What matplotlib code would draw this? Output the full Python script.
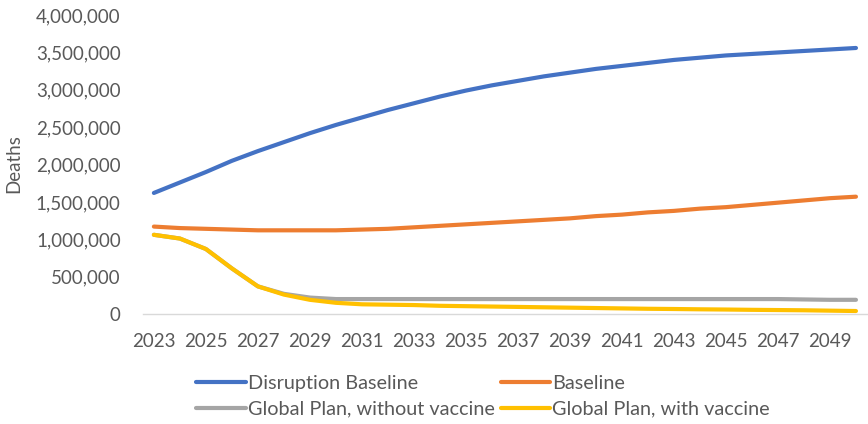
import matplotlib
matplotlib.use('Agg')
import matplotlib.pyplot as plt
from matplotlib.ticker import FuncFormatter

years = list(range(2023, 2051))

disruption = [1.62, 1.76, 1.90, 2.05, 2.18, 2.30, 2.42, 2.53, 2.63, 2.73,
              2.82, 2.91, 2.99, 3.06, 3.12, 3.18, 3.23, 3.28, 3.32, 3.36,
              3.40, 3.43, 3.46, 3.48, 3.50, 3.52, 3.54, 3.56]
baseline = [1.17, 1.15, 1.14, 1.13, 1.12, 1.12, 1.12, 1.12, 1.13, 1.14,
            1.16, 1.18, 1.20, 1.22, 1.24, 1.26, 1.28, 1.31, 1.33, 1.36,
            1.38, 1.41, 1.43, 1.46, 1.49, 1.52, 1.55, 1.57]
gp_no_vax = [1.06, 1.01, 0.87, 0.61, 0.37, 0.27, 0.22, 0.20, 0.20, 0.20,
             0.20, 0.20, 0.20, 0.20, 0.20, 0.20, 0.20, 0.20, 0.20, 0.20,
             0.20, 0.20, 0.20, 0.20, 0.20, 0.195, 0.19, 0.19]
gp_vax = [1.06, 1.01, 0.87, 0.61, 0.37, 0.26, 0.19, 0.15, 0.13, 0.125,
          0.12, 0.11, 0.105, 0.10, 0.095, 0.09, 0.085, 0.08, 0.075, 0.07,
          0.067, 0.063, 0.06, 0.056, 0.053, 0.05, 0.045, 0.04]

# values above are in millions
to_abs = lambda v: [x * 1e6 for x in v]

plt.rcParams['font.family'] = ['Lato', 'DejaVu Sans']
txt = '#595959'

fig = plt.figure(figsize=(8.68, 4.24), dpi=100)
ax = fig.add_axes([0.1647, 0.2594, 0.834, 0.705])

l1, = ax.plot(years, to_abs(disruption), color='#4472C4', lw=3, solid_capstyle='round')
l2, = ax.plot(years, to_abs(baseline), color='#ED7D31', lw=3, solid_capstyle='round')
l3, = ax.plot(years, to_abs(gp_no_vax), color='#A5A5A5', lw=3, solid_capstyle='round')
l4, = ax.plot(years, to_abs(gp_vax), color='#FFC000', lw=3, solid_capstyle='round')

ax.set_xlim(2022.58, 2050.42)
ax.set_ylim(0, 4e6)
ax.set_xticks(years[::2])
ax.set_yticks([i * 5e5 for i in range(9)])
ax.yaxis.set_major_formatter(FuncFormatter(lambda v, p: f'{int(v):,}'))

for s in ['top', 'right', 'left']:
    ax.spines[s].set_visible(False)
ax.spines['bottom'].set_color('#D9D9D9')
ax.spines['bottom'].set_linewidth(1)
ax.tick_params(length=0, labelsize=13.5, colors=txt)
ax.tick_params(axis='y', pad=16)
ax.tick_params(axis='x', pad=14)

fig.text(0.016, 0.615, 'Deaths', rotation=90, va='center', ha='center',
         fontsize=13.5, color=txt)

leg = fig.legend([l1, l3, l2, l4],
                 ['Disruption Baseline', 'Global Plan, without vaccine',
                  'Baseline', 'Global Plan, with vaccine'],
                 ncol=2, loc='center left', bbox_to_anchor=(0.226, 0.066),
                 frameon=False, fontsize=14.3, handlelength=2.5,
                 handletextpad=0.1, columnspacing=0.3, labelspacing=0.45,
                 borderaxespad=0, borderpad=0)
for t in leg.get_texts():
    t.set_color(txt)

fig.savefig('out.png', dpi=100)
